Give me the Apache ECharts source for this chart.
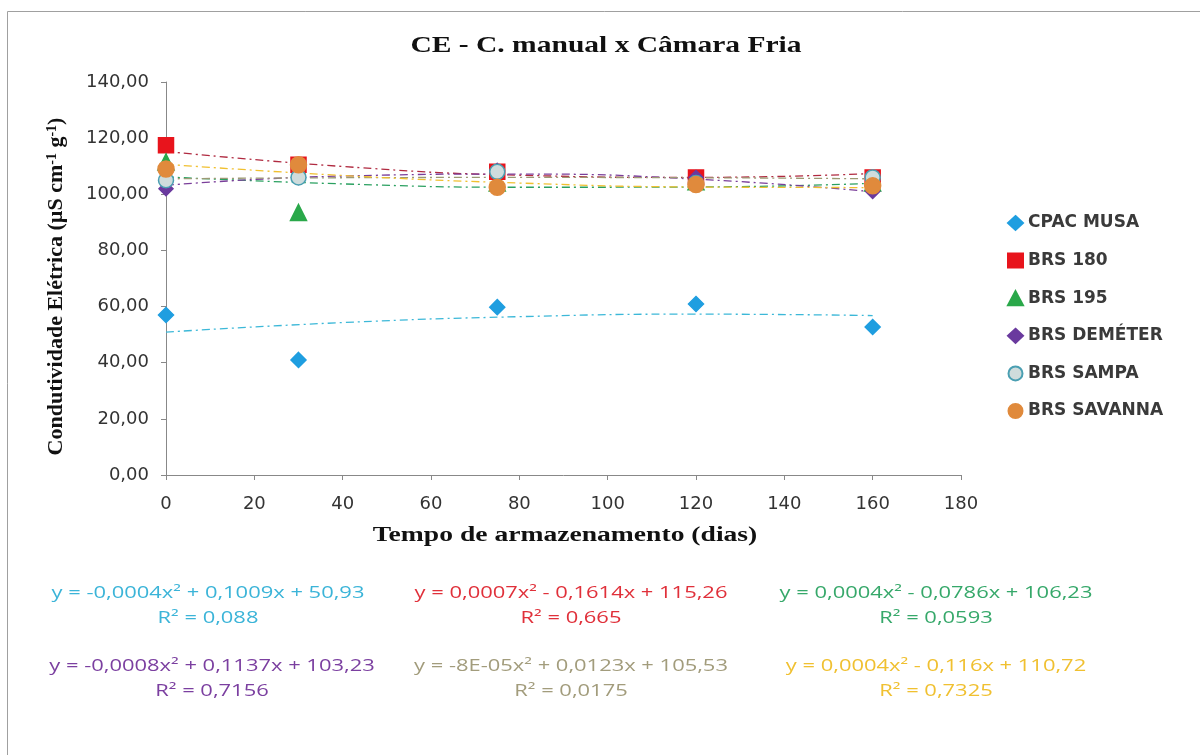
<!DOCTYPE html>
<html>
<head>
<meta charset="utf-8">
<script src="https://cdn.jsdelivr.net/npm/echarts@6/dist/echarts.min.js"></script>
<style>
  html, body { margin: 0; padding: 0; background: #fff; }
  #main { width: 1200px; height: 755px; }
</style>
</head>
<body>
<div id="main"></div>
<script>
// dias de armazenamento
const dias = [0, 30, 75, 120, 160];
const cpacMusa = [57.0, 41.0, 59.8, 60.9, 52.7];
const brs180 = [117.5, 110.5, 108.0, 106.0, 106.0];
const brs195 = [111.5, 93.5, 104.0, 104.5, 104.0];
const brsDemeter = [102.0, 106.0, 108.5, 106.0, 101.0];
const brsSampa = [105.0, 106.0, 108.0, 104.0, 106.0];
const brsSavanna = [109.0, 110.5, 102.5, 103.5, 103.0];

// linhas de tendencia
const diasTend = [0, 40, 80, 120, 160];
const tendCpac = [50.9, 54.3, 56.4, 57.3, 56.8];
const tend180 = [115.3, 109.9, 106.8, 106.0, 107.4];
const tend195 = [106.2, 103.7, 102.5, 102.6, 103.9];
const tendDemeter = [103.2, 106.5, 107.2, 105.4, 100.9];
const tendSampa = [105.5, 105.9, 106.0, 105.9, 105.5];
const tendSavanna = [110.7, 106.7, 104.0, 102.6, 102.4];

const equacoes = [
  ['y = -0,0004x² + 0,1009x + 50,93', 'R² = 0,088'],
  ['y = 0,0007x² - 0,1614x + 115,26', 'R² = 0,665'],
  ['y = 0,0004x² - 0,0786x + 106,23', 'R² = 0,0593'],
  ['y = -0,0008x² + 0,1137x + 103,23', 'R² = 0,7156'],
  ['y = -8E-05x² + 0,0123x + 105,53', 'R² = 0,0175'],
  ['y = 0,0004x² - 0,116x + 110,72', 'R² = 0,7325']
];

const series_cfg = [
  { name: 'CPAC MUSA', data: cpacMusa, tend: tendCpac, symbol: 'diamond', size: 15, color: '#1f9ee0', border: '#1f9ee0', trend: '#3cb8d8' },
  { name: 'BRS 180', data: brs180, tend: tend180, symbol: 'rect', size: 15, color: '#e8141c', border: '#e8141c', trend: '#b02a40' },
  { name: 'BRS 195', data: brs195, tend: tend195, symbol: 'triangle', size: 16, color: '#2aa84a', border: '#2aa84a', trend: '#2aa060' },
  { name: 'BRS DEMÉTER', data: brsDemeter, tend: tendDemeter, symbol: 'diamond', size: 14, color: '#6a3a9e', border: '#6a3a9e', trend: '#7a3e9a' },
  { name: 'BRS SAMPA', data: brsSampa, tend: tendSampa, symbol: 'circle', size: 15, color: '#cfdcdc', border: '#4a9fb2', trend: '#9c9a74' },
  { name: 'BRS SAVANNA', data: brsSavanna, tend: tendSavanna, symbol: 'circle', size: 16, color: '#e08a3c', border: '#e08a3c', trend: '#f0c030' }
];
const eqColors = ['#3bb4d8', '#e0303a', '#36a86a', '#7b3fa0', '#a29c7c', '#f0c030'];
const eqCenters = [[208, 593], [571, 593], [936, 593], [212, 666], [571, 666], [936, 666]];

const chart = echarts.init(document.getElementById('main'));

const series = [];
series_cfg.forEach(s => {
  series.push({
    name: s.name + ' tend',
    type: 'line',
    smooth: true,
    symbol: 'none',
    silent: true,
    z: 2,
    lineStyle: { color: s.trend, width: 1.3, type: [8, 4, 2, 4] },
    data: diasTend.map((d, i) => [d, s.tend[i]])
  });
});
series_cfg.forEach(s => {
  series.push({
    name: s.name,
    type: 'scatter',
    symbol: s.symbol,
    symbolSize: s.size,
    z: 3,
    itemStyle: { color: s.color, borderColor: s.border, borderWidth: 1.5, opacity: 1 },
    data: dias.map((d, i) => [d, s.data[i]])
  });
});

// o original esta esticado na horizontal, por isso o scaleX nos textos
const graphics = [
  { type: 'rect', shape: { x: 7.5, y: 11.5, width: 1220, height: 780 }, style: { fill: 'none', stroke: '#a0a0a0', lineWidth: 1 }, silent: true },
  {
    type: 'text', x: 606, y: 46, scaleX: 1.23,
    style: { text: 'CE - C. manual x Câmara Fria', fill: '#111', font: 'bold 24px "Liberation Serif"', textAlign: 'center', textVerticalAlign: 'middle' }
  },
  {
    type: 'text', x: 565, y: 536, scaleX: 1.38,
    style: { text: 'Tempo de armazenamento (dias)', fill: '#111', font: 'bold 20px "Liberation Serif"', textAlign: 'center', textVerticalAlign: 'middle' }
  }
];
equacoes.forEach((eq, i) => {
  graphics.push({
    type: 'text', x: eqCenters[i][0], y: eqCenters[i][1], scaleX: 1.37,
    style: { text: eq[0], fill: eqColors[i], font: '16px "Open Sans"', textAlign: 'center', textVerticalAlign: 'middle' }
  });
  graphics.push({
    type: 'text', x: eqCenters[i][0], y: eqCenters[i][1] + 25, scaleX: 1.37,
    style: { text: eq[1], fill: eqColors[i], font: '16px "Open Sans"', textAlign: 'center', textVerticalAlign: 'middle' }
  });
});

chart.setOption({
  animation: false,
  backgroundColor: '#fff',
  legend: {
    orient: 'vertical',
    left: 1002,
    top: 209,
    itemWidth: 15,
    itemHeight: 14,
    itemGap: 19.6,
    data: series_cfg.map(s => s.name),
    textStyle: { fontFamily: 'DejaVu Sans', fontWeight: 'bold', fontSize: 17, lineHeight: 18, color: '#3a3a3a' }
  },
  grid: { left: 166, right: 239, top: 82, bottom: 280 },
  xAxis: {
    type: 'value',
    min: 0, max: 180, interval: 20,
    axisLine: { lineStyle: { color: '#888' } },
    axisTick: { lineStyle: { color: '#888' } },
    axisLabel: { fontFamily: 'DejaVu Sans', fontSize: 18, color: '#333', margin: 20 },
    splitLine: { show: false }
  },
  yAxis: {
    type: 'value',
    min: 0, max: 140, interval: 20,
    name: 'Condutividade Elétrica (µS cm{sup|-1} g{sup|-1})',
    nameLocation: 'middle',
    nameGap: 98,
    nameTextStyle: {
      fontFamily: 'Liberation Serif', fontWeight: 'bold', fontSize: 22, color: '#111',
      padding: [0, 16, 0, 0],
      rich: { sup: { fontFamily: 'Liberation Serif', fontWeight: 'bold', fontSize: 14, color: '#111', verticalAlign: 'top', padding: [0, 0, 9, 0] } }
    },
    axisLine: { show: true, lineStyle: { color: '#888' } },
    axisTick: { show: true, lineStyle: { color: '#888' } },
    axisLabel: { fontFamily: 'DejaVu Sans', fontSize: 18, color: '#333', margin: 17, formatter: v => v.toFixed(2).replace('.', ',') },
    splitLine: { show: false }
  },
  graphic: graphics,
  series: series
});
</script>
</body>
</html>
